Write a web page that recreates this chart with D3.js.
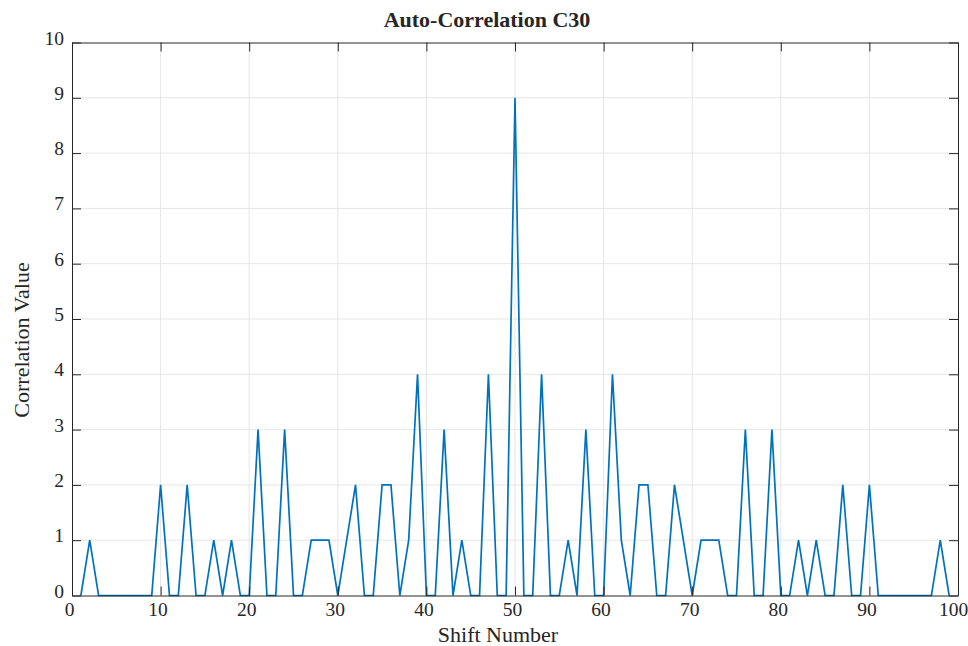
<!DOCTYPE html>
<html>
<head>
<meta charset="utf-8">
<script src="https://cdn.jsdelivr.net/npm/d3@7"></script>
<style>
  body { margin: 0; background: #fff; }
  svg text { font-family: "Liberation Serif", "Times New Roman", serif; fill: #262626; }
</style>
</head>
<body>
<div id="chart"></div>
<script>
// datos: desplazamiento 1..99 y valor de correlacion
const shifts = d3.range(1, 100);
const corrValues = [
  0, 1, 0, 0, 0, 0, 0, 0, 0, 2,
  0, 0, 2, 0, 0, 1, 0, 1, 0, 0,
  3, 0, 0, 3, 0, 0, 1, 1, 1, 0,
  1, 2, 0, 0, 2, 2, 0, 1, 4, 0,
  0, 3, 0, 1, 0, 0, 4, 0, 0, 9,
  0, 0, 4, 0, 0, 1, 0, 3, 0, 0,
  4, 1, 0, 2, 2, 0, 0, 2, 1, 0,
  1, 1, 1, 0, 0, 3, 0, 0, 3, 0,
  0, 1, 0, 1, 0, 0, 2, 0, 0, 2,
  0, 0, 0, 0, 0, 0, 0, 1, 0
];
const xTicks = d3.range(0, 101, 10);
const yTicks = d3.range(0, 11, 1);

const totalW = 968, totalH = 646;
const margin = { top: 42.5, right: 10, bottom: 50.5, left: 72 };
const w = totalW - margin.left - margin.right;
const h = totalH - margin.top - margin.bottom;

const svg = d3.select("#chart").append("svg")
  .attr("width", totalW)
  .attr("height", totalH);

const g = svg.append("g")
  .attr("transform", `translate(${margin.left},${margin.top})`);

const x = d3.scaleLinear().domain([0, 100]).range([0, w]);
const y = d3.scaleLinear().domain([0, 10]).range([h, 0]);

// rejilla
g.append("g").selectAll("line").data(xTicks.slice(1, -1)).join("line")
  .attr("x1", d => x(d)).attr("x2", d => x(d))
  .attr("y1", 0).attr("y2", h)
  .attr("stroke", "#e6e6e6").attr("stroke-width", 1);
g.append("g").selectAll("line").data(yTicks.slice(1, -1)).join("line")
  .attr("y1", d => y(d)).attr("y2", d => y(d))
  .attr("x1", 0).attr("x2", w)
  .attr("stroke", "#e6e6e6").attr("stroke-width", 1);

// linea de datos
const line = d3.line()
  .x((d, i) => x(shifts[i]))
  .y(d => y(d));

g.append("path")
  .datum(corrValues)
  .attr("fill", "none")
  .attr("stroke", "#0072BD")
  .attr("stroke-width", 1.7)
  .attr("stroke-linejoin", "miter")
  .attr("d", line);

// ejes con marcas hacia dentro
const tk = 9;
const xAxisB = g.append("g").attr("transform", `translate(0,${h})`)
  .call(d3.axisBottom(x).tickValues(xTicks).tickSize(-tk).tickSizeOuter(0));
const xAxisT = g.append("g")
  .call(d3.axisTop(x).tickValues(xTicks).tickSize(-tk).tickSizeOuter(0).tickFormat(""));
const yAxisL = g.append("g")
  .call(d3.axisLeft(y).tickValues(yTicks).tickSize(-tk).tickSizeOuter(0));
const yAxisR = g.append("g").attr("transform", `translate(${w},0)`)
  .call(d3.axisRight(y).tickValues(yTicks).tickSize(-tk).tickSizeOuter(0).tickFormat(""));

[xAxisB, xAxisT, yAxisL, yAxisR].forEach(a => {
  a.selectAll("path.domain").attr("stroke", "#262626").attr("stroke-width", 1);
  a.selectAll(".tick line").attr("stroke", "#262626").attr("stroke-width", 1);
  a.selectAll("text").attr("font-size", 19.5).attr("font-family", "Liberation Serif, serif").attr("fill", "#262626");
});
xAxisB.selectAll(".tick text").attr("dy", 0).attr("y", 20.5)
  .attr("x", d => d === 100 ? -5 : -3);
yAxisL.selectAll(".tick text").attr("dy", 0).attr("x", -8).attr("y", 1.5);

// titulos
svg.append("text")
  .attr("x", 487)
  .attr("y", 27)
  .attr("text-anchor", "middle")
  .attr("font-size", 22)
  .attr("font-weight", "bold")
  .attr("fill", "#000")
  .text("Auto-Correlation C30");

svg.append("text")
  .attr("x", 498)
  .attr("y", 642)
  .attr("text-anchor", "middle")
  .attr("font-size", 22)
  .text("Shift Number");

svg.append("text")
  .attr("transform", `translate(29,340) rotate(-90)`)
  .attr("text-anchor", "middle")
  .attr("font-size", 22)
  .text("Correlation Value");
</script>
</body>
</html>
